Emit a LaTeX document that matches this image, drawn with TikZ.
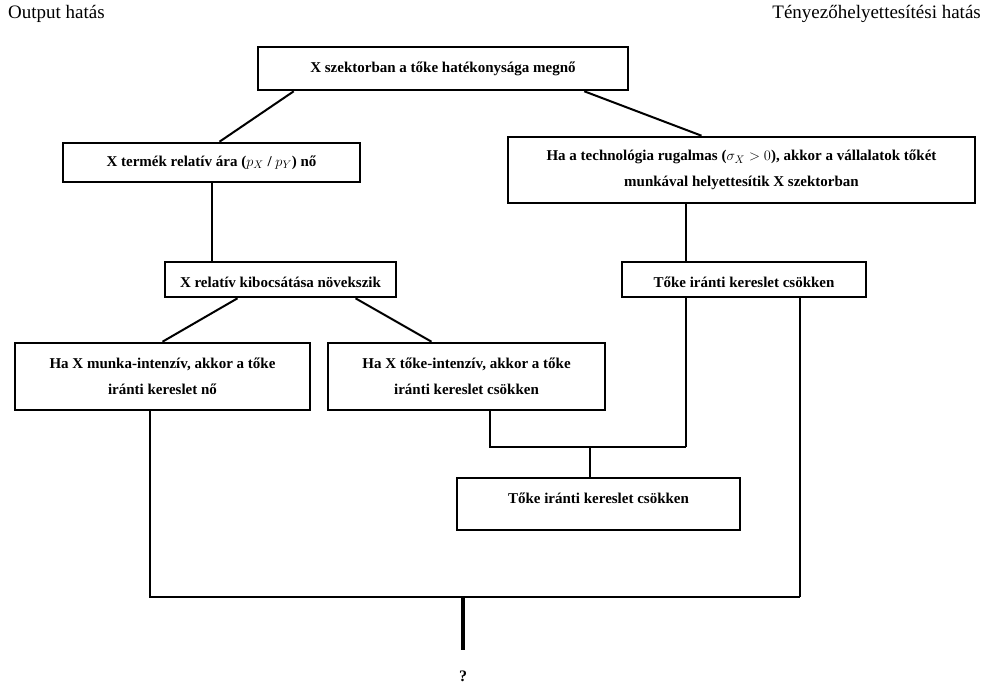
\documentclass[tikz,border=0pt]{standalone}
\usepackage{fontspec}
\setmainfont{Liberation Serif}
\usetikzlibrary{calc}
\begin{document}
\begin{tikzpicture}[x=1pt,y=-1pt,
  box/.style={draw, line width=2.6pt, font=\bfseries\fontsize{15}{26}\selectfont, align=center, inner sep=0pt},
  conn/.style={line width=2pt},
  hdr/.style={font=\fontsize{19}{22}\selectfont, inner sep=0pt}]
\useasboundingbox (0,0) rectangle (987,683);
\node[hdr, anchor=west] (h1) at (8,14) {Output hatás};
\node[hdr, anchor=east] (h2) at (981,14) {Tényezőhelyettesítési hatás};

\node[box, minimum width=370pt, minimum height=43pt] (top) at (443,68.5) {X szektorban a tőke hatékonysága megnő};
\node[box, minimum width=297pt, minimum height=39pt] (b2) at (211.5,162.5) {X termék relatív ára ($p_X$ / $p_Y$) nő};
\node[box, minimum width=467pt, minimum height=66pt] (b3) at (741.5,170) {Ha a technológia rugalmas ($\sigma_X > 0$), akkor a vállalatok tőkét\\munkával helyettesítik X szektorban};
\node[box, minimum width=231pt, minimum height=35pt, text height=19pt, text depth=3pt] (b4) at (280.5,279.5) {X relatív kibocsátása növekszik};
\node[box, minimum width=244pt, minimum height=35pt, text height=19pt, text depth=3pt] (b5) at (744,279.5) {Tőke iránti kereslet csökken};
\node[box, minimum width=295pt, minimum height=67pt] (b6) at (162.5,376.5) {Ha X munka-intenzív, akkor a tőke\\iránti kereslet nő};
\node[box, minimum width=277pt, minimum height=67pt] (b7) at (466.5,376.5) {Ha X tőke-intenzív, akkor a tőke\\iránti kereslet csökken};
\node[box, minimum width=283pt, minimum height=52pt, text height=10pt, text depth=11pt] (b8) at (598.5,504) {Tőke iránti kereslet csökken};
\node[font=\bfseries\fontsize{16}{18}\selectfont, inner sep=0pt] (q) at (463,676) {?};

\coordinate (j1) at (686,447);
\coordinate (j2) at (590,447);
\coordinate (m1) at (150,597);
\coordinate (m2) at (800,597);
\coordinate (m3) at (463,597);
\coordinate (m4) at (463,650);

\draw[conn] ([xshift=37pt]top.south west) -- ([xshift=8pt]b2.north);
\draw[conn] ([xshift=-45pt]top.south east) -- ([xshift=-40pt]b3.north);
\draw[conn] (b2.south) -- (b2.south |- b4.north);
\draw[conn] ([xshift=-55.5pt]b3.south) -- ([xshift=-55.5pt]b3.south |- b5.north);
\draw[conn] ([xshift=-43pt]b4.south) -- (b6.north);
\draw[conn] ([xshift=75pt]b4.south) -- ([xshift=-35pt]b7.north);
\draw[conn] ([xshift=23.5pt]b7.south) |- (j1);
\draw[conn] ([xshift=-58pt]b5.south) -- (j1);
\draw[conn] (j2) -- (j2 |- b8.north);
\draw[conn] (m2 |- b5.south) -- (m2);
\draw[conn] (m1 |- b6.south) -- (m1) -- (m2);
\draw[line width=3.5pt] (m3) -- (m4);
\end{tikzpicture}
\end{document}
